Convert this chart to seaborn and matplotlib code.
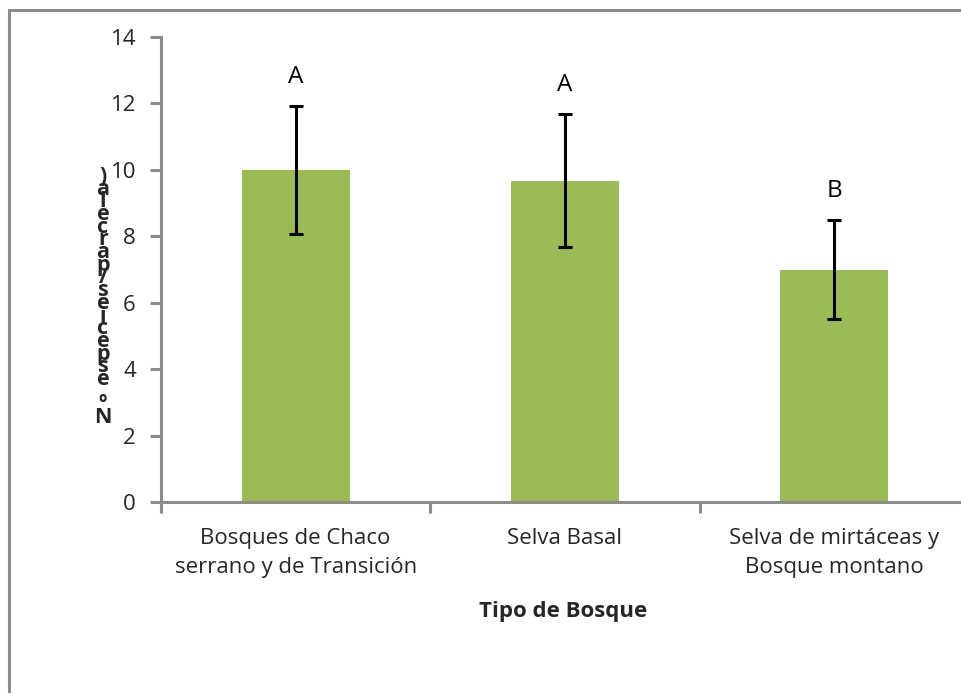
import matplotlib
matplotlib.use("Agg")
import matplotlib.pyplot as plt
import seaborn as sns
import pandas as pd
from matplotlib.lines import Line2D

# Species richness per plot by forest type (mean ± error)
categorias = ["Bosques de Chaco\nserrano y de Transición",
              "Selva Basal",
              "Selva de mirtáceas y\nBosque montano"]
medias = [10.0, 9.67, 7.0]
errores = [1.93, 2.0, 1.48]
letras = ["A", "A", "B"]
yticks = [0, 2, 4, 6, 8, 10, 12, 14]
ylabel = "Nº especies/parcela)"
xlabel = "Tipo de Bosque"

sns.set_theme(style="white")
plt.rcParams["font.family"] = ["Open Sans", "DejaVu Sans"]

GRIS = "#8c8c8c"
VERDE = "#9BBB59"

W, H = 962, 693
fig = plt.figure(figsize=(W / 100, H / 100), dpi=100)
ax = fig.add_axes([161 / W, 1 - 502 / H, (969 - 161) / W, (502 - 37) / H])

df = pd.DataFrame({"categoria": categorias, "media": medias})
sns.barplot(data=df, x="categoria", y="media", color=VERDE, saturation=1,
            width=0.40, errorbar=None, ax=ax, edgecolor="none")

xpos = list(range(len(categorias)))
ax.errorbar(xpos, medias, yerr=errores, fmt="none", ecolor="black",
            elinewidth=2.2, capsize=4.7, capthick=2.2, zorder=5)

for x, m, e, l in zip(xpos, medias, errores, letras):
    ax.text(x, m + e + 0.88, l, ha="center", va="center", fontsize=17.5,
            color="black")

ax.set_xlim(-0.5, len(categorias) - 0.5)
ax.set_ylim(0, 14)
ax.set_yticks(yticks)
ax.set_yticklabels([str(t) for t in yticks], fontsize=16)

# category boundaries carry the tick marks; names sit at centres
ax.set_xticks([i - 0.5 for i in range(len(categorias) + 1)])
ax.set_xticklabels([])
ax.set_xticks(xpos, minor=True)
ax.set_xticklabels(categorias, minor=True, fontsize=16, linespacing=1.45)
ax.tick_params(axis="x", which="minor", length=0, pad=19)
ax.tick_params(axis="x", which="major", direction="out", length=8,
               width=2.2, color=GRIS, bottom=True)
ax.tick_params(axis="y", direction="out", length=8, width=2.2,
               color=GRIS, pad=10, left=True)

for s in ["top", "right"]:
    ax.spines[s].set_visible(False)
for s in ["left", "bottom"]:
    ax.spines[s].set_color(GRIS)
    ax.spines[s].set_linewidth(2.2)

ax.set_xlabel("")
ax.set_ylabel("")

fig.text(563 / W, 1 - 612 / H, xlabel, ha="center", va="center",
         fontsize=16, fontweight="bold")

# y label drawn as upright characters stacked bottom-to-top
apilado = "\n".join(reversed(ylabel))
fig.text(103 / W, 1 - 297 / H, apilado, ha="center", va="center",
         fontsize=15.5, fontweight="bold", linespacing=0.48)

# outer chart border
fig.add_artist(Line2D([9 / W, 9 / W], [1 - 10 / H, -0.1], color=GRIS,
                      lw=2.2, transform=fig.transFigure))
fig.add_artist(Line2D([9 / W, 1.1], [1 - 10 / H, 1 - 10 / H], color=GRIS,
                      lw=2.2, transform=fig.transFigure))

fig.savefig("out.png", dpi=100)
